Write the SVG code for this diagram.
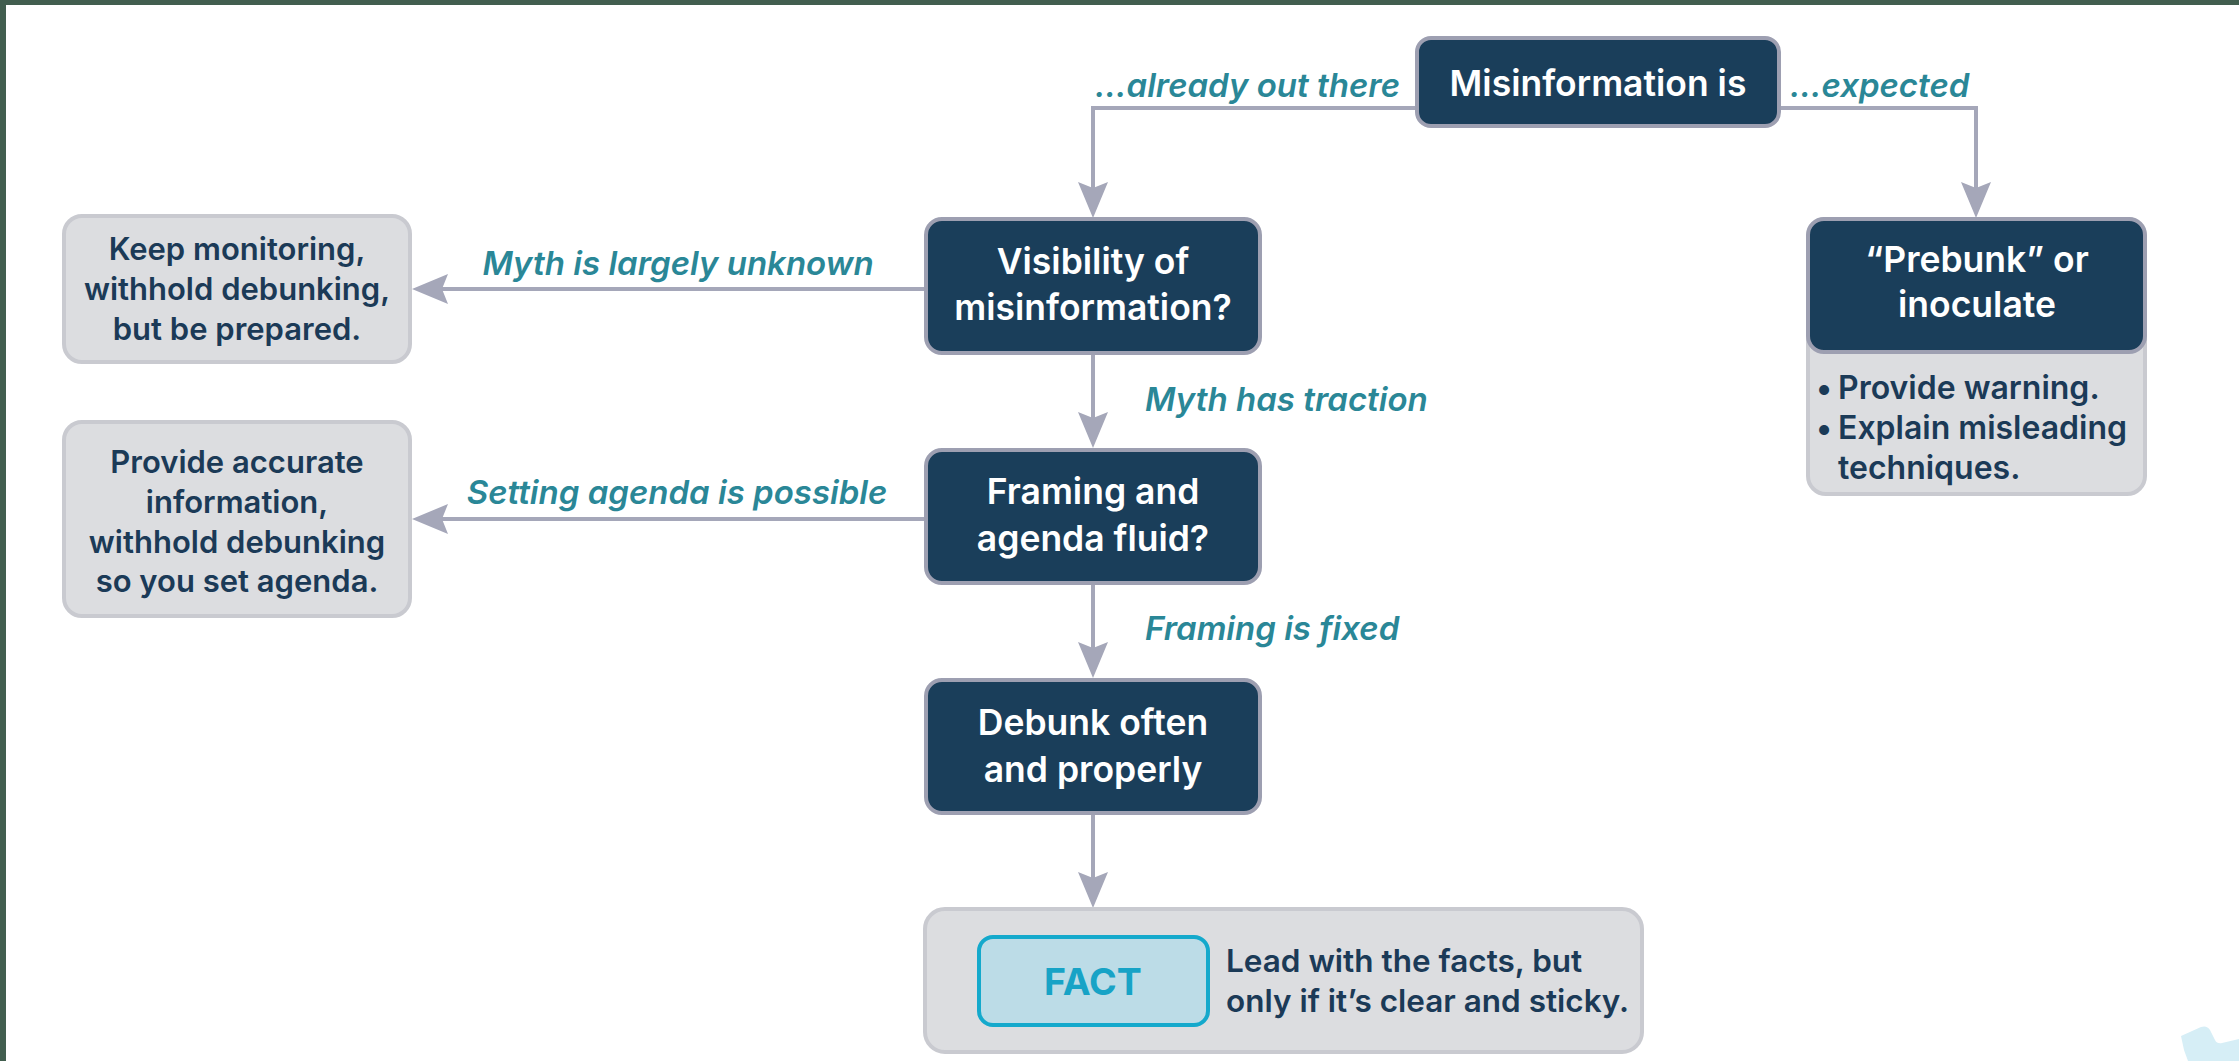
<svg xmlns="http://www.w3.org/2000/svg" width="2239" height="1061" viewBox="0 0 2239 1061">
<defs>
<style>
.dark{fill:#1a3e5a;stroke:#9d9fb1;stroke-width:4}
.grey{fill:#dcdde0;stroke:#c9cad0;stroke-width:4}
.wt{font-family:Inter,"Noto Sans",sans-serif;font-weight:600;font-size:35.5px;fill:#ffffff;text-anchor:middle}
.gt{font-family:Inter,"Noto Sans",sans-serif;font-weight:600;font-size:31px;fill:#1b3a57;text-anchor:middle}
.bt{font-family:Inter,"Noto Sans",sans-serif;font-weight:600;font-size:32px;fill:#1b3a57}
.ft{font-family:Inter,"Noto Sans",sans-serif;font-weight:600;font-size:31.5px;fill:#1b3a57}
.lb{font-family:Inter,"Noto Sans",sans-serif;font-weight:600;font-style:italic;font-size:33px;fill:#2a8797}
.conn{fill:none;stroke:#a5a7b9;stroke-width:4}
</style>
<marker id="ah" markerUnits="userSpaceOnUse" markerWidth="36" markerHeight="30" viewBox="0 0 36 30" refX="6" refY="15" orient="auto">
<path d="M0,0 L36,15 L0,30 L6,15 Z" fill="#a5a7b9"/>
</marker>
</defs>
<rect x="0" y="0" width="2239" height="1061" fill="#425e4f"/>
<rect x="6" y="5" width="2233" height="1056" fill="#ffffff"/>
<path d="M2181,1036 L2201,1027 Q2207,1025 2210,1030 L2215,1040 Q2217,1044 2222,1043 L2239,1039 L2239,1061 L2188,1061 L2184,1050 Z" fill="#d6eef6"/>

<g id="connectors">
<path class="conn" d="M1417,108 H1093 V188" marker-end="url(#ah)"/>
<path class="conn" d="M1779,108 H1976 V188" marker-end="url(#ah)"/>
<path class="conn" d="M925,289 H442" marker-end="url(#ah)"/>
<path class="conn" d="M1093,354 V418" marker-end="url(#ah)"/>
<path class="conn" d="M925,519 H442" marker-end="url(#ah)"/>
<path class="conn" d="M1093,584 V648" marker-end="url(#ah)"/>
<path class="conn" d="M1093,814 V878" marker-end="url(#ah)"/>
<text class="lb" x="1400" y="97" text-anchor="end">...already out there</text>
<text class="lb" x="1790" y="97">...expected</text>
<text class="lb" x="678" y="275" text-anchor="middle">Myth is largely unknown</text>
<text class="lb" x="1145" y="411">Myth has traction</text>
<text class="lb" x="677" y="504" text-anchor="middle">Setting agenda is possible</text>
<text class="lb" x="1145" y="640">Framing is fixed</text>
</g>

<g id="n-misinfo">
<rect class="dark" x="1417" y="38" width="362" height="88" rx="14"/>
<text class="wt" x="1598" y="96">Misinformation is</text>
</g>

<g id="n-visibility">
<rect class="dark" x="926" y="219" width="334" height="134" rx="16"/>
<text class="wt" x="1093" y="274">Visibility of</text>
<text class="wt" x="1093" y="320">misinformation?</text>
</g>

<g id="n-framing">
<rect class="dark" x="926" y="450" width="334" height="133" rx="16"/>
<text class="wt" x="1093" y="504">Framing and</text>
<text class="wt" x="1093" y="551">agenda fluid?</text>
</g>

<g id="n-debunk">
<rect class="dark" x="926" y="680" width="334" height="133" rx="16"/>
<text class="wt" x="1093" y="735">Debunk often</text>
<text class="wt" x="1093" y="782">and properly</text>
</g>

<g id="n-keep">
<rect class="grey" x="64" y="216" width="346" height="146" rx="18"/>
<text class="gt" x="237" y="260">Keep monitoring,</text>
<text class="gt" x="237" y="300">withhold debunking,</text>
<text class="gt" x="237" y="340">but be prepared.</text>
</g>

<g id="n-provide">
<rect class="grey" x="64" y="422" width="346" height="194" rx="18"/>
<text class="gt" x="237" y="473">Provide accurate</text>
<text class="gt" x="237" y="513">information,</text>
<text class="gt" x="237" y="553">withhold debunking</text>
<text class="gt" x="237" y="592">so you set agenda.</text>
</g>

<g id="n-prebunk">
<rect class="grey" x="1808" y="219" width="337" height="275" rx="18"/>
<rect class="dark" x="1808" y="219" width="337" height="133" rx="16"/>
<text class="wt" x="1977" y="272">“Prebunk” or</text>
<text class="wt" x="1977" y="317">inoculate</text>
<text class="bt" x="1816" y="399">•</text>
<text class="bt" x="1838" y="399">Provide warning.</text>
<text class="bt" x="1816" y="439">•</text>
<text class="bt" x="1838" y="439">Explain misleading</text>
<text class="bt" x="1838" y="479">techniques.</text>
</g>

<g id="n-fact">
<rect class="grey" x="925" y="909" width="717" height="143" rx="20"/>
<rect x="979" y="937" width="229" height="88" rx="14" fill="#bcdce7" stroke="#14a9cc" stroke-width="4"/>
<text x="1093" y="995" text-anchor="middle" font-family="Inter, 'Noto Sans', sans-serif" font-weight="700" font-size="37.5" fill="#17a3c6">FACT</text>
<text class="ft" x="1226" y="972">Lead with the facts, but</text>
<text class="ft" x="1226" y="1012">only if it’s clear and sticky.</text>
</g>
</svg>
